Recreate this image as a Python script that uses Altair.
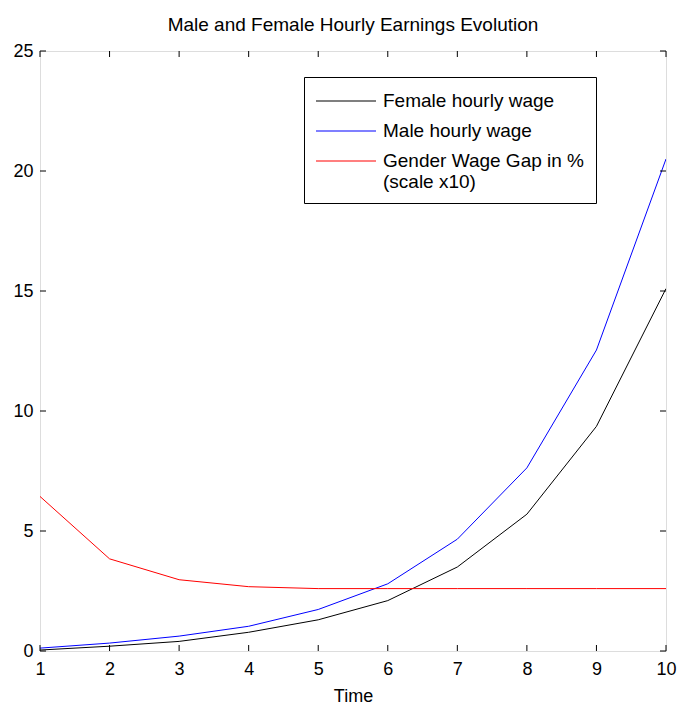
import altair as alt
import pandas as pd

time = [1, 2, 3, 4, 5, 6, 7, 8, 9, 10]
female = [0.04, 0.2, 0.4, 0.78, 1.3, 2.1, 3.5, 5.7, 9.36, 15.1]
male = [0.12, 0.33, 0.62, 1.03, 1.73, 2.8, 4.66, 7.63, 12.54, 20.5]
gap = [6.44, 3.84, 2.97, 2.68, 2.6, 2.6, 2.6, 2.6, 2.6, 2.6]
series_names = ["Female hourly wage", "Male hourly wage", "Gender Wage Gap in % (scale x10)"]
series_colors = ["#000000", "#0000ff", "#ff0000"]
x_ticks = [1, 2, 3, 4, 5, 6, 7, 8, 9, 10]
y_ticks = [0, 5, 10, 15, 20, 25]

rows = []
for name, vals in zip(series_names, [female, male, gap]):
    for t, v in zip(time, vals):
        rows.append({"Time": t, "value": v, "series": name})
df = pd.DataFrame(rows)

W, H = 626, 600
FONT = "Liberation Sans"

xscale = alt.Scale(domain=[1, 10], nice=False, zero=False)
yscale = alt.Scale(domain=[0, 25], nice=False)

lines = alt.Chart(df).mark_line(strokeWidth=1, clip=True).encode(
    x=alt.X("Time:Q", scale=xscale,
            axis=alt.Axis(values=x_ticks, format="d", title="Time", ticks=False, domain=False,
                          grid=False, labelFontSize=18, labelPadding=9, titleFontSize=18,
                          titleFontWeight="normal", titlePadding=9, labelColor="black",
                          titleColor="black", labelFont=FONT, titleFont=FONT,
                          labelFlush=False)),
    y=alt.Y("value:Q", scale=yscale,
            axis=alt.Axis(values=y_ticks, format="d", title=None, ticks=False, domain=False,
                          grid=False, labelFontSize=18, labelPadding=7, labelColor="black",
                          labelFont=FONT, labelFlush=False)),
    color=alt.Color("series:N",
                    scale=alt.Scale(domain=series_names, range=series_colors),
                    sort=series_names,
                    legend=alt.Legend(
                        title=None, orient="none", legendX=264, legendY=26,
                        symbolType="stroke", symbolSize=3600, symbolStrokeWidth=1.2,
                        labelFontSize=19, labelFont=FONT, labelColor="black",
                        labelLimit=400, strokeColor="black", fillColor="white",
                        padding=11, rowPadding=4, labelOffset=6, clipHeight=26,
                        labelExpr="datum.label == 'Gender Wage Gap in % (scale x10)' ? ['Gender Wage Gap in %', '(scale x10)'] : datum.label",
                    )),
)

xt = pd.DataFrame({"t": x_ticks})
yt = pd.DataFrame({"v": y_ticks})
TK = 6
bottom_ticks = alt.Chart(xt).mark_rule(color="black", strokeWidth=1).encode(
    x=alt.X("t:Q", scale=xscale), y=alt.value(H), y2=alt.value(H - TK))
top_ticks = alt.Chart(xt).mark_rule(color="black", strokeWidth=1).encode(
    x=alt.X("t:Q", scale=xscale), y=alt.value(0), y2=alt.value(TK))
left_ticks = alt.Chart(yt).mark_rule(color="black", strokeWidth=1).encode(
    y=alt.Y("v:Q", scale=yscale), x=alt.value(0), x2=alt.value(TK))
right_ticks = alt.Chart(yt).mark_rule(color="black", strokeWidth=1).encode(
    y=alt.Y("v:Q", scale=yscale), x=alt.value(W), x2=alt.value(W - TK))

chart = alt.layer(lines, bottom_ticks, top_ticks, left_ticks, right_ticks).properties(
    width=W, height=H,
    title=alt.TitleParams("Male and Female Hourly Earnings Evolution", fontSize=19,
                          fontWeight="normal", font=FONT, color="black", offset=7,
                          anchor="middle"),
    autosize=alt.AutoSizeParams(type="none"),
    padding={"left": 32, "top": 43, "right": 12, "bottom": 57},
).configure_view(stroke="black", strokeWidth=1.5).configure(background="white")

chart.save("out.html", embed_options={"renderer": "svg", "actions": False})
